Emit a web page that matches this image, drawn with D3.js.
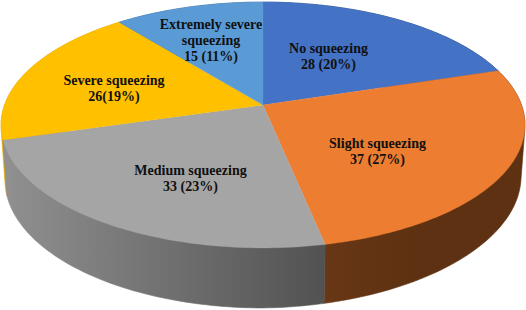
<!DOCTYPE html>
<html><head><meta charset="utf-8">
<style>html,body{margin:0;padding:0;background:#fff}svg{display:block}</style>
<script src="https://cdn.jsdelivr.net/npm/d3@7/dist/d3.min.js"></script>
</head><body><svg id="c" width="526" height="310"></svg>
<script>
const categories = ["No squeezing","Slight squeezing","Medium squeezing","Severe squeezing","Extremely severe squeezing"];
const counts = [28,37,33,26,15];
const labelLines = [["No squeezing","28 (20%)"],["Slight squeezing","37 (27%)"],["Medium squeezing","33 (23%)"],["Severe squeezing","26(19%)"],["Extremely severe","squeezing","15 (11%)"]];
const topColors = ["#4472C4","#ED7D31","#A5A5A5","#FFC000","#5B9BD5"];
const sideStops = [["#2a4476","#2a4476"],["#683716","#5d3111"],["#909090","#525252"],["#e0a800","#d8a200"],["#37608a","#37608a"]];

// layout (separate from data)
const cx=263, cy=105, a=258.5, b=119.7, k=0.1626;
const labelPos=[[328.5,53],[377.5,148],[190.5,175],[114,85],[211,29]];
const lineH=16;

const svg=d3.select("#c");
const defs=svg.append("defs");
const project=t=>{const u=Math.sin(t),v=Math.cos(t),w=1/(1+k*v);return [cx+a*u*w,cy-b*v*w];};
const lower=p=>[cx+(p[0]-cx)*0.985,180+(p[1]-125)*128/123-Math.max(0,p[0]-cx)*0.015];
const pie=d3.pie().sort(null)(counts);
const arcPts=d=>d3.range(0,81).map(i=>project(d.startAngle+(d.endAngle-d.startAngle)*i/80));
const line=d3.line();

const xRange=[[430,520],[323,420],[5,323],[0,10],[118,263]];
pie.forEach((d,i)=>{
  const g=defs.append("linearGradient").attr("id","s"+i).attr("gradientUnits","userSpaceOnUse")
    .attr("x1",xRange[i][0]).attr("x2",xRange[i][1]).attr("y1",0).attr("y2",0);
  g.append("stop").attr("offset",0).attr("stop-color",sideStops[i][0]);
  g.append("stop").attr("offset",1).attr("stop-color",sideStops[i][1]);
});
[4,0,3,1,2].forEach(i=>{
  const pts=arcPts(pie[i]);
  const hull=d3.polygonHull(pts.concat(pts.map(lower)));
  svg.append("path").attr("d",line(hull)+"Z").attr("fill",`url(#s${i})`)
    .attr("stroke",`url(#s${i})`).attr("stroke-width",0.6);
});
pie.forEach((d,i)=>{
  const pts=[[cx,cy]].concat(arcPts(d));
  svg.append("path").attr("d",line(pts)+"Z").attr("fill",topColors[i])
    .attr("stroke",topColors[i]).attr("stroke-width",0.3);
});
labelLines.forEach((ls,i)=>{
  const t=svg.append("text").attr("text-anchor","middle")
    .attr("font-family","'Liberation Serif',serif").attr("font-weight","bold")
    .attr("font-size",14).attr("fill","#101010");
  ls.forEach((s,j)=>t.append("tspan").attr("x",labelPos[i][0]).attr("y",labelPos[i][1]+j*lineH).text(s));
});
</script></body></html>
